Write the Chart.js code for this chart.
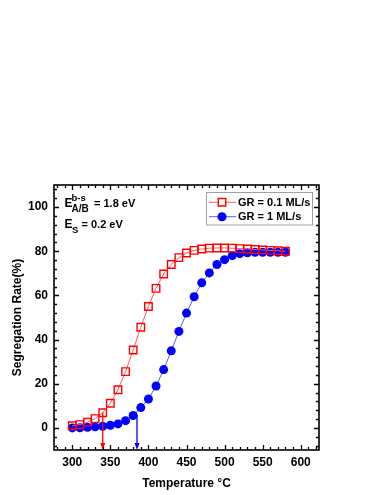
<!DOCTYPE html>
<html><head><meta charset="utf-8">
<script src="https://cdn.jsdelivr.net/npm/chart.js@4"></script>
<style>html,body{margin:0;padding:0;background:#fff}#wrap{width:383px;height:495px;position:relative}</style>
</head><body><div id="wrap"><canvas id="c"></canvas></div>
<script>
// ---- data ----
const temperatures = [300,310,320,330,340,350,360,370,380,390,400,410,420,430,440,450,460,470,480,490,500,510,520,530,540,550,560,570,580];
const rateGR01 = [1.0,1.5,2.6,4.2,6.9,11.2,17.3,25.5,35.3,45.6,55.0,63.2,69.7,74.0,77.1,79.2,80.4,81.0,81.4,81.5,81.5,81.4,81.2,81.0,80.8,80.6,80.4,80.2,80.0];
const rateGR1 = [0.0,0.1,0.3,0.5,0.7,1.2,1.8,3.3,5.6,9.2,13.1,19.0,26.4,34.9,43.7,52.0,59.4,65.7,70.2,74.0,76.2,78.0,78.9,79.3,79.5,79.5,79.5,79.5,79.5];
const seriesLabels = ['GR = 0.1 ML/s', 'GR = 1 ML/s'];
const xTickValues = [300,350,400,450,500,550,600];
const yTickValues = [0,20,40,60,80,100];
const xMinorStep = 10, yMinorStep = 4;
const xRange = [276, 624], yRange = [-10, 110];
const arrowTemps = [340, 385];
const arrowStart = [7, 6];
const arrowEnd = -10;
const xTitle = 'Temperature \u00B0C';
const yTitle = 'Segregation Rate(%)';

const RED = '#ff0000', BLUE = '#0000ff';
const FONT = '"Liberation Sans", Arial, sans-serif';

const decor = {
  id: 'decor',
  afterDatasetsDraw(chart) {
    const {ctx, chartArea: a, scales: {x, y}} = chart;
    ctx.save();
    // arrows
    const cols = [RED, BLUE];
    arrowTemps.forEach((t, i) => {
      const px = x.getPixelForValue(t);
      const y0 = y.getPixelForValue(arrowStart[i]);
      const y1 = y.getPixelForValue(arrowEnd);
      ctx.strokeStyle = cols[i]; ctx.fillStyle = cols[i]; ctx.lineWidth = 1.3;
      ctx.beginPath(); ctx.moveTo(px, y0); ctx.lineTo(px, y1 - 5); ctx.stroke();
      ctx.beginPath(); ctx.moveTo(px - 2.5, y1 - 7); ctx.lineTo(px + 2.5, y1 - 7); ctx.lineTo(px, y1); ctx.closePath(); ctx.fill();
    });
    // frame
    ctx.strokeStyle = '#000'; ctx.lineWidth = 1.6;
    ctx.strokeRect(a.left, a.top, a.right - a.left, a.bottom - a.top);
    // ticks (inward, all sides)
    ctx.lineWidth = 1.3;
    const xMaj = new Set(xTickValues), yMaj = new Set(yTickValues);
    ctx.beginPath();
    for (let v = Math.ceil(xRange[0] / xMinorStep) * xMinorStep; v <= xRange[1]; v += xMinorStep) {
      const len = xMaj.has(v) ? 5 : 3;
      const px = Math.round(x.getPixelForValue(v)) + 0.5;
      ctx.moveTo(px, a.bottom); ctx.lineTo(px, a.bottom - len);
      ctx.moveTo(px, a.top); ctx.lineTo(px, a.top + len);
    }
    for (let v = Math.ceil(yRange[0] / yMinorStep) * yMinorStep; v <= yRange[1]; v += yMinorStep) {
      const len = yMaj.has(v) ? 5 : 3;
      const py = Math.round(y.getPixelForValue(v)) + 0.5;
      ctx.moveTo(a.left, py); ctx.lineTo(a.left + len, py);
      ctx.moveTo(a.right, py); ctx.lineTo(a.right - len, py);
    }
    ctx.stroke();
    ctx.restore();
  },
  afterDraw(chart) {
    const {ctx} = chart;
    ctx.save();
    // legend
    ctx.strokeStyle = '#a0a0a0'; ctx.lineWidth = 1;
    ctx.strokeRect(206.5, 192.5, 106, 32.5);
    const ys = [202.3, 216.7];
    chart.data.datasets.forEach((ds, i) => {
      const yy = ys[i];
      ctx.strokeStyle = ds.borderColor; ctx.lineWidth = 1;
      ctx.beginPath(); ctx.moveTo(209, yy); ctx.lineTo(236, yy); ctx.stroke();
      ctx.lineWidth = ds.pointBorderWidth || 1;
      ctx.strokeStyle = ds.pointBorderColor;
      ctx.beginPath();
      if (ds.pointStyle === 'rect') {
        const s = Math.SQRT1_2 * ds.pointRadius;
        ctx.fillStyle = '#ffffff';
        ctx.rect(222 - s, yy - s, 2 * s, 2 * s);
        ctx.fill(); ctx.stroke();
      } else {
        ctx.fillStyle = ds.pointBackgroundColor;
        ctx.arc(222, yy, ds.pointRadius, 0, Math.PI * 2);
        ctx.fill();
      }
      ctx.fillStyle = '#000'; ctx.font = 'bold 11px ' + FONT; ctx.textBaseline = 'middle'; ctx.textAlign = 'left';
      ctx.fillText(ds.label, 238, yy + 0.5);
    });
    // annotation
    ctx.fillStyle = '#000'; ctx.textBaseline = 'alphabetic'; ctx.textAlign = 'left';
    ctx.font = 'bold 12px ' + FONT;
    ctx.fillText('E', 64.5, 207);
    ctx.font = 'bold 9.5px ' + FONT;
    ctx.fillText('b-s', 71.5, 200.5);
    ctx.font = 'bold 10px ' + FONT;
    ctx.fillText('A/B', 71.5, 212);
    ctx.font = 'bold 11px ' + FONT;
    ctx.fillText('= 1.8 eV', 94, 207);
    ctx.font = 'bold 12px ' + FONT;
    ctx.fillText('E', 64.5, 228.3);
    ctx.font = 'bold 9.5px ' + FONT;
    ctx.fillText('S', 72, 232.5);
    ctx.font = 'bold 11px ' + FONT;
    ctx.fillText('= 0.2 eV', 81.5, 228.3);
    ctx.restore();
  }
};

new Chart(document.getElementById('c'), {
  type: 'line',
  data: {
    labels: temperatures,
    datasets: [
      {
        label: seriesLabels[0],
        data: temperatures.map((t, i) => ({x: t, y: rateGR01[i]})),
        borderColor: '#ff5a5a', borderWidth: 1,
        pointStyle: 'rect', pointRadius: 5.3, pointBorderWidth: 1.4,
        pointBorderColor: RED, pointBackgroundColor: 'rgba(255,255,255,0)',
        tension: 0
      },
      {
        label: seriesLabels[1],
        data: temperatures.map((t, i) => ({x: t, y: rateGR1[i]})),
        borderColor: '#5a5aff', borderWidth: 1,
        pointStyle: 'circle', pointRadius: 4.5, pointBorderWidth: 0,
        pointBorderColor: BLUE, pointBackgroundColor: BLUE,
        tension: 0
      }
    ]
  },
  options: {
    responsive: true, maintainAspectRatio: false, animation: false,
    devicePixelRatio: 1,
    layout: {padding: {top: 185, right: 64, left: 0, bottom: 0}},
    plugins: {legend: {display: false}, tooltip: {enabled: false}},
    scales: {
      x: {
        type: 'linear', min: xRange[0], max: xRange[1],
        afterBuildTicks: s => { s.ticks = xTickValues.map(v => ({value: v})); },
        afterFit: s => { s.height = 45; },
        grid: {display: false, drawTicks: false}, border: {display: false},
        ticks: {color: '#000', font: {family: FONT, size: 12, weight: 'bold'}, padding: 5, maxRotation: 0, autoSkip: false},
        title: {display: true, text: xTitle, color: '#000', font: {family: FONT, size: 12, weight: 'bold'}, padding: {top: 0, bottom: 4.5}}
      },
      y: {
        type: 'linear', min: yRange[0], max: yRange[1],
        afterBuildTicks: s => { s.ticks = yTickValues.map(v => ({value: v})); },
        afterFit: s => { s.width = 54; },
        grid: {display: false, drawTicks: false}, border: {display: false},
        ticks: {color: '#000', font: {family: FONT, size: 12, weight: 'bold'}, padding: 6, autoSkip: false},
        title: {display: true, text: yTitle, color: '#000', font: {family: FONT, size: 12, weight: 'bold'}, padding: {top: 10, bottom: 0}}
      }
    }
  },
  plugins: [decor]
});
</script>
</body></html>
